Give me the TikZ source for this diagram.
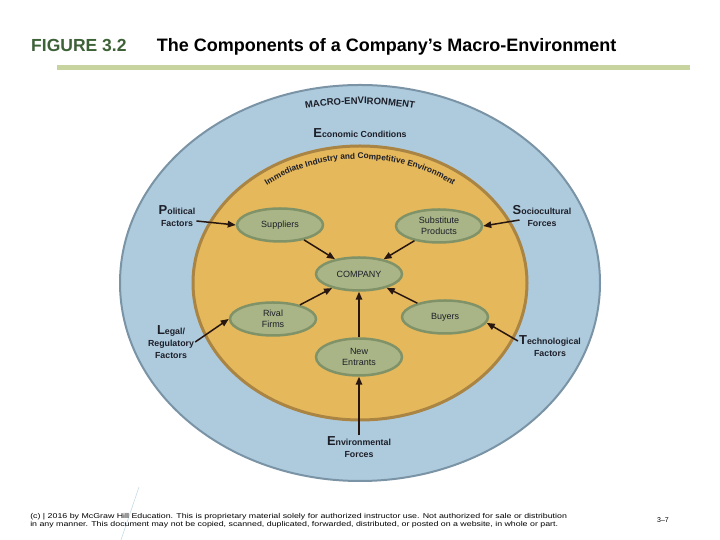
\documentclass[tikz,border=0pt]{standalone}
\usepackage{fontspec}
\setmainfont{Liberation Sans}
\usetikzlibrary{positioning,shapes.geometric,arrows.meta,decorations.text}
\definecolor{macro}{RGB}{174,203,221}
\definecolor{macroedge}{RGB}{122,148,166}
\definecolor{industry}{RGB}{229,184,92}
\definecolor{industryedge}{RGB}{170,132,66}
\definecolor{force}{RGB}{170,181,135}
\definecolor{forceedge}{RGB}{128,146,104}
\definecolor{ink}{RGB}{28,30,40}
\definecolor{arrowink}{RGB}{40,22,16}
\definecolor{figgreen}{RGB}{62,98,56}
\definecolor{rulegreen}{RGB}{199,212,160}
\newcommand{\leadch}[1]{{\fontsize{13}{13}\selectfont#1}}

\begin{document}
\begin{tikzpicture}[x=1pt, y=1pt,
  every node/.style={font=\fontsize{8.5}{12}\selectfont, text=ink},
  frc/.style={ellipse, draw=forceedge, fill=force, line width=2.5pt, inner sep=0pt,
              minimum width=86pt, minimum height=33pt, align=center, font=\fontsize{9}{11}\selectfont},
  lbl/.style={align=center, inner sep=1pt, font=\fontsize{8.8}{12}\selectfont\bfseries},
  arr/.style={-{Triangle[length=8pt,width=6.5pt]}, line width=1.5pt, draw=arrowink}
]
  \useasboundingbox (0,0) rectangle (720,540);

  \node[anchor=base west, inner sep=0pt, font=\fontsize{17.5}{20}\selectfont\bfseries, text=figgreen] (fig) at (31,488) {FIGURE 3.2};
  \node[base right=30pt of fig, inner sep=0pt, font=\fontsize{18}{20}\selectfont\bfseries, text=black] (ttl) {The Components of a Company’s Macro-Environment};
  \fill[rulegreen] (57,470) rectangle (690,475);

  \filldraw[fill=macro, draw=macroedge, line width=2pt] (360,257) ellipse [x radius=240pt, y radius=198pt];
  \filldraw[fill=industry, draw=industryedge, line width=3pt] (360,257) ellipse [x radius=167pt, y radius=137pt];

  \path[decorate, decoration={text along path, text align=center, text color=ink,
        text={|\fontsize{9.5}{10}\selectfont\bfseries|MACRO-ENVIRONMENT}}]
    ([shift={(360,257)}]150:234 and 179) arc[start angle=150, end angle=30, x radius=234pt, y radius=179pt];
  \path[decorate, decoration={text along path, text align=center, text color=ink,
        text={|\fontsize{8.3}{10}\selectfont\bfseries|Immediate Industry and Competitive Environment}}]
    ([shift={(360,257)}]170:151 and 124) arc[start angle=170, end angle=10, x radius=151pt, y radius=124pt];

  \node[lbl] (eco) at (360,407) {\leadch{E}conomic Conditions};

  \node[frc] (sup) at (280,315) {Suppliers};
  \node[frc] (sub) at (439,314) {Substitute\\Products};
  \node[frc] (com) at (359,266) {COMPANY};
  \node[frc] (riv) at (273,221) {Rival\\Firms};
  \node[frc] (buy) at (445,223) {Buyers};
  \node[frc, minimum height=37pt] (new) at (359,183) {New\\Entrants};

  \node[lbl] (pol) at (177,324) {\leadch{P}olitical\\Factors};
  \node[lbl] (soc) at (542,324) {\leadch{S}ociocultural\\Forces};
  \node[lbl] (leg) at (171,198) {\leadch{L}egal/\\Regulatory\\Factors};
  \node[lbl] (tec) at (550,194) {\leadch{T}echnological\\Factors};
  \node[lbl] (env) at (359,93) {\leadch{E}nvironmental\\Forces};

  \draw[arr] ([yshift=-5pt]pol.east) -- (sup.west);
  \draw[arr] ([xshift=8pt,yshift=-4pt]soc.west) -- (sub.east);
  \draw[arr] (leg.east) -- (riv.west);
  \draw[arr] ([yshift=5pt]tec.west) -- (buy.-8);
  \draw[arr] (env.north) -- (new.south);
  \draw[arr] (sup) -- (com);
  \draw[arr] (sub) -- (com);
  \draw[arr] (riv) -- (com);
  \draw[arr] (buy) -- (com);
  \draw[arr] (new) -- (com);

  \draw[macro!70!white, line width=0.6pt] (139,53) -- (121,0);
  \node[anchor=north west, inner sep=0pt, align=left, xscale=1.26, transform shape,
        font=\fontsize{7}{8}\selectfont, text=black] (cpy) at (30,27)
    {(c) | 2016 by McGraw Hill Education. This is proprietary material solely for authorized instructor use. Not authorized for sale or distribution\\
     in any manner. This document may not be copied, scanned, duplicated, forwarded, distributed, or posted on a website, in whole or part.};
  \node[inner sep=0pt, font=\fontsize{7}{8}\selectfont, text=black] (pg) at (663,20) {3–7};
\end{tikzpicture}
\end{document}
